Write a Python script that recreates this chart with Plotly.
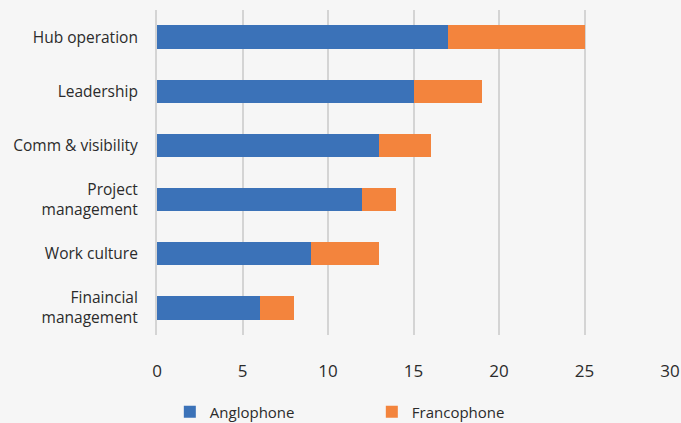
import plotly.graph_objects as go

# Survey categories (top to bottom) and counts per language group
categories = ["Hub operation", "Leadership", "Comm &amp; visibility",
              "Project<br>management", "Work culture", "Finaincial<br>management"]
anglophone = [17, 15, 13, 12, 9, 6]
francophone = [8, 4, 3, 2, 4, 2]
x_ticks = [0, 5, 10, 15, 20, 25, 30]

BLUE = "#3b72b8"
ORANGE = "#f3843d"
BG = "#f6f6f6"
GRID = "#d4d4d4"
TEXT = "#2b2b2b"
FONT = "Open Sans"

fig = go.Figure()
fig.add_trace(go.Bar(y=categories, x=anglophone, name="Anglophone",
                     orientation="h", marker=dict(color=BLUE, line_width=0),
                     width=0.43))
fig.add_trace(go.Bar(y=categories, x=francophone, name="Francophone",
                     orientation="h", marker=dict(color=ORANGE, line_width=0),
                     width=0.43))

fig.update_layout(
    barmode="stack",
    width=681, height=423,
    margin=dict(l=157, r=11, t=10, b=88, autoexpand=False),
    paper_bgcolor=BG, plot_bgcolor=BG,
    font=dict(family=FONT, size=15, color=TEXT),
    showlegend=True,
    legend=dict(orientation="h", x=0.025, xanchor="left",
                y=(423 - 412) / 423, yref="container",
                yanchor="middle", font=dict(size=15, color=TEXT),
                entrywidth=157, bgcolor="rgba(0,0,0,0)",
                traceorder="normal"),
    xaxis=dict(range=[0, 30], tickvals=x_ticks, showgrid=True,
               gridcolor=GRID, gridwidth=2, zeroline=False,
               showline=False, ticklabelstandoff=24, automargin=False,
               tickfont=dict(size=17, color=TEXT)),
    yaxis=dict(categoryorder="array", categoryarray=categories[::-1],
               showgrid=False, zeroline=False,
               showline=True, linecolor=GRID, linewidth=2,
               ticklabelstandoff=14, automargin=False,
               tickfont=dict(size=15.5, color=TEXT)),
)

fig.write_html("out.html")
